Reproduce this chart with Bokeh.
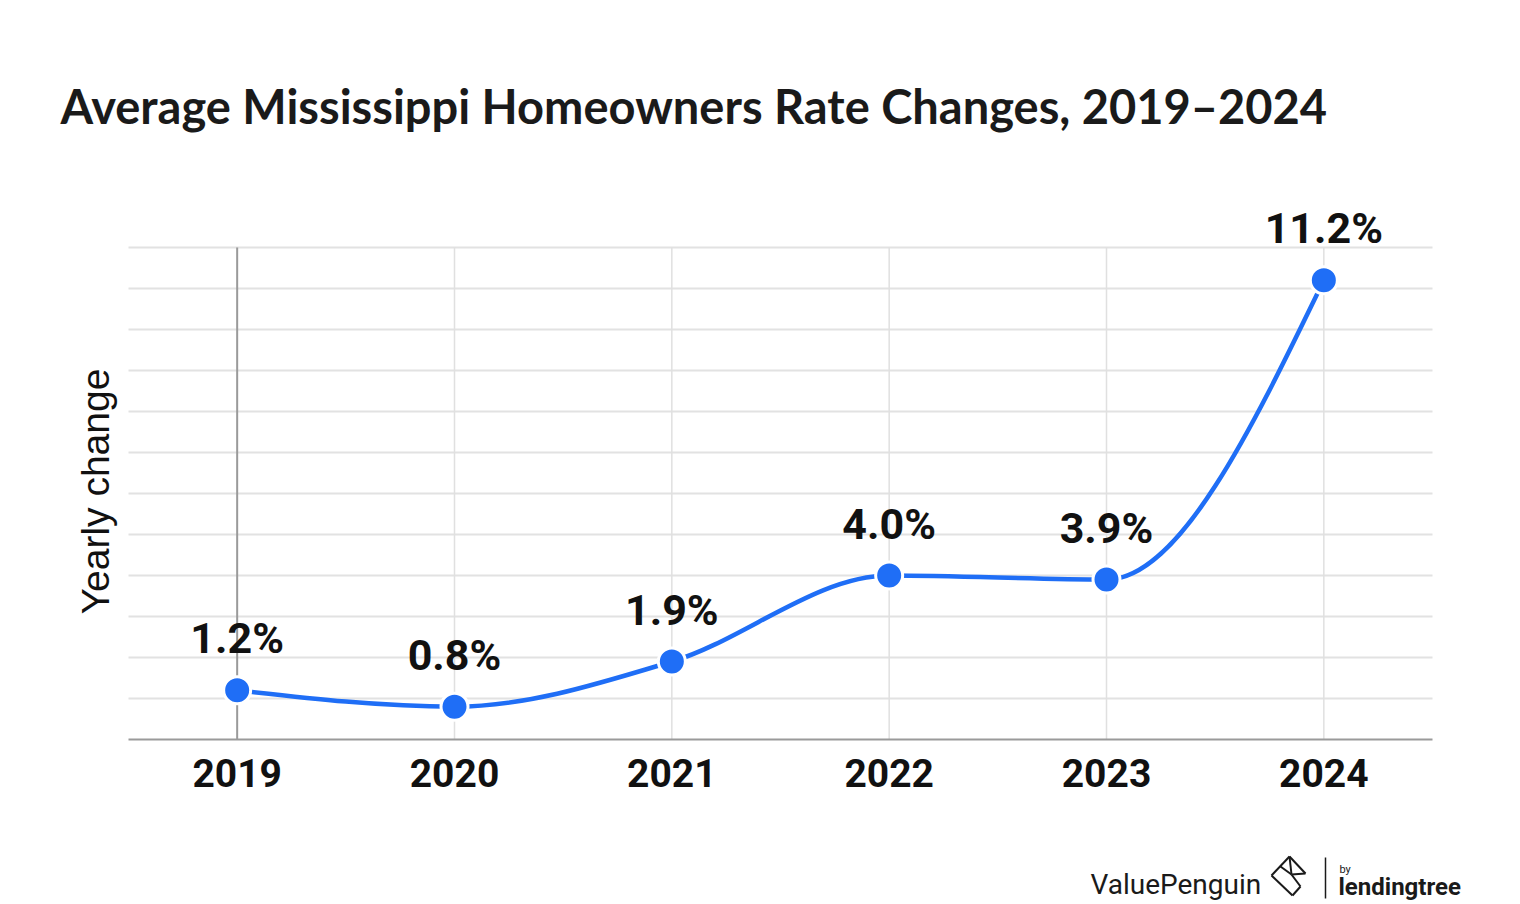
import numpy as np
from bokeh.plotting import figure
from bokeh.models import Range1d, ColumnDataSource
from bokeh.embed import file_html
from bokeh.resources import INLINE
from bokeh.core.properties import value

# ---------------- data ----------------
years = [2019, 2020, 2021, 2022, 2023, 2024]
changes = [1.2, 0.8, 1.9, 4.0, 3.9, 11.2]
point_labels = ["1.2%", "0.8%", "1.9%", "4.0%", "3.9%", "11.2%"]
year_labels = ["2019", "2020", "2021", "2022", "2023", "2024"]
title_text = "Average Mississippi Homeowners Rate Changes, 2019–2024"
y_title = "Yearly change"
grid_values = list(range(1, 13))

BLUE = "#1f6ef6"
GRID = "#e2e2e2"
INK = "#111111"

# ---------------- layout (pixel positions in the picture) ----------------
W, H = 1510, 904
FRAME_L, FRAME_R = 128, 1432         # plot area left/right, px
BASE_Y = 739                         # y=0 baseline, px
PX_PER_YEAR = (FRAME_R - FRAME_L) / 6.0
PX_PER_UNIT = 41.0
X_START = 2018.5 - FRAME_L / PX_PER_YEAR
Y_TOP = BASE_Y / PX_PER_UNIT


def dx(px):
    return X_START + px / PX_PER_YEAR


def dy(py):
    return Y_TOP - py / PX_PER_UNIT


# ---------------- monotone (d3 monotoneX-like) curve ----------------
def monotone_tangents(x, y):
    n = len(x)
    h = np.diff(x)
    s = np.diff(y) / h
    t = np.zeros(n)
    for i in range(1, n - 1):
        s0, s1 = s[i - 1], s[i]
        pp = (s0 * h[i] + s1 * h[i - 1]) / (h[i - 1] + h[i])
        t[i] = (np.sign(s0) + np.sign(s1)) * min(abs(s0), abs(s1), 0.5 * abs(pp))
    t[0] = (3 * s[0] - t[1]) / 2
    t[-1] = (3 * s[-1] - t[-2]) / 2
    return t


xa = np.asarray(years, float)
ya = np.asarray(changes, float)
tan = monotone_tangents(xa, ya)
step = np.diff(xa)
bez = dict(
    x0=xa[:-1], y0=ya[:-1], x1=xa[1:], y1=ya[1:],
    cx0=xa[:-1] + step / 3, cy0=ya[:-1] + step * tan[:-1] / 3,
    cx1=xa[1:] - step / 3, cy1=ya[1:] - step * tan[1:] / 3,
)

p = figure(
    width=W, height=H,
    x_range=Range1d(X_START, X_START + W / PX_PER_YEAR),
    y_range=Range1d(Y_TOP - H / PX_PER_UNIT, Y_TOP),
    x_axis_location=None, y_axis_location=None,
    output_backend="svg", toolbar_location=None,
    min_border=0,
)
p.outline_line_color = None
p.xgrid.visible = False
p.ygrid.visible = False
p.background_fill_color = "white"
p.border_fill_color = "white"

x_lo, x_hi = 2018.5, 2024.5

# horizontal grid lines
p.segment(x0=[x_lo] * len(grid_values), y0=grid_values,
          x1=[x_hi] * len(grid_values), y1=grid_values,
          line_color=GRID, line_width=2)

# vertical lines at each year (first one darker)
vcolors = ["#9a9a9a"] + ["#e0e0e0"] * (len(years) - 1)
vwidths = [2] + [1.5] * (len(years) - 1)
p.segment(x0=years, y0=[0] * len(years), x1=years, y1=[max(grid_values)] * len(years),
          line_color=vcolors, line_width=vwidths)

# baseline (x axis line)
p.segment(x0=[x_lo], y0=[0], x1=[x_hi], y1=[0], line_color="#9a9a9a", line_width=2)

# year tick labels
p.text(x=years, y=[dy(772)] * len(years), text=year_labels,
       text_font=value("Roboto"), text_font_style="bold", text_font_size="39px",
       text_color=INK, text_align="center", text_baseline="middle")

# curve and markers
p.bezier(source=ColumnDataSource(bez), x0="x0", y0="y0", x1="x1", y1="y1",
         cx0="cx0", cy0="cy0", cx1="cx1", cy1="cy1", line_color=BLUE, line_width=4.5)
p.scatter(years, changes, size=27, fill_color=BLUE, line_color="white", line_width=3)

# data labels (baseline ~36 px above each point)
p.text(x=years, y=changes, text=point_labels, y_offset=-52,
       text_font=value("Roboto"), text_font_style="bold", text_font_size="43px",
       text_color=INK, text_align="center", text_baseline="alphabetic")

# title
p.text(x=[dx(60)], y=[dy(105)], text=[title_text],
       text_font=value("Lato"), text_font_style="bold", text_font_size="47px",
       text_color="#1a1a1a", text_align="left", text_baseline="alphabetic")

# y-axis title
p.text(x=[dx(95)], y=[dy(491)], text=[y_title], angle=np.pi / 2,
       text_font=value("Liberation Sans"), text_font_size="39px",
       text_color=INK, text_align="center", text_baseline="middle")

# logo
p.text(x=[dx(1090)], y=[dy(884)], text=["ValuePenguin"],
       text_font=value("Roboto"), text_font_size="28px",
       text_color="#1a1a1a", text_align="left", text_baseline="alphabetic")
icon_lines = [
    ((1289, 856), (1305, 873)), ((1305, 873), (1291, 874)), ((1289, 856), (1291, 874)),
    ((1291, 874), (1300, 886)), ((1300, 886), (1292, 895)), ((1292, 895), (1271, 875)),
    ((1271, 875), (1289, 856)), ((1280, 866), (1291, 874)),
]
p.multi_line([[dx(a[0]), dx(b[0])] for a, b in icon_lines],
             [[dy(a[1]), dy(b[1])] for a, b in icon_lines],
             line_color="#1a1a1a", line_width=2)
p.segment(x0=[dx(1325)], y0=[dy(857)], x1=[dx(1325)], y1=[dy(898)],
          line_color="#1a1a1a", line_width=1.5)
p.text(x=[dx(1339)], y=[dy(869)], text=["by"],
       text_font=value("Roboto"), text_font_size="11px",
       text_color="#1a1a1a", text_align="left", text_baseline="alphabetic")
p.text(x=[dx(1338)], y=[dy(886)], text=["lendingtree"],
       text_font=value("Roboto"), text_font_style="bold", text_font_size="24px",
       text_color="#1a1a1a", text_align="left", text_baseline="alphabetic")

open("out.html", "w").write(file_html(p, INLINE))
